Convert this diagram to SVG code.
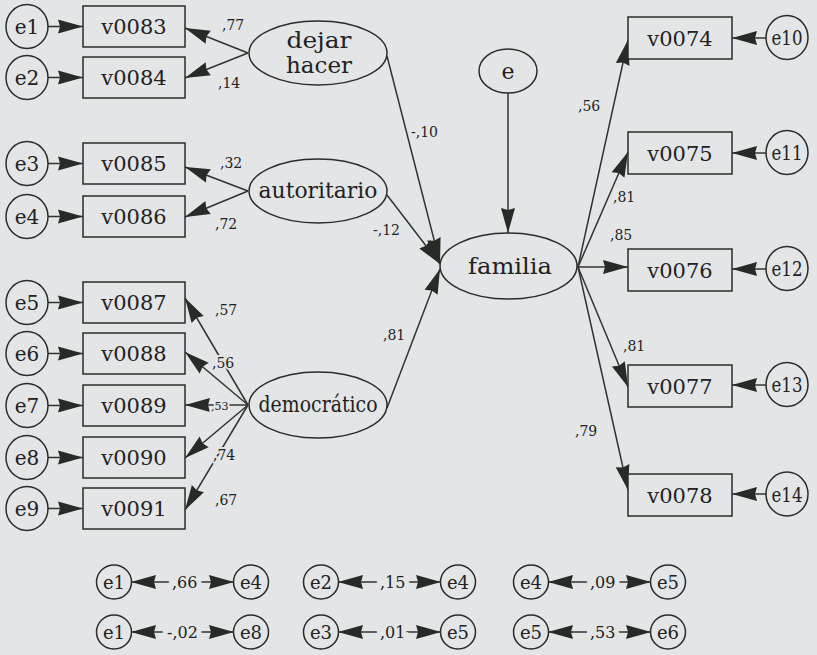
<svg xmlns="http://www.w3.org/2000/svg" width="817" height="655" viewBox="0 0 817 655">
<defs>
<marker id="ah" markerUnits="userSpaceOnUse" viewBox="0 0 26 16" markerWidth="26" markerHeight="16" refX="25" refY="8" orient="auto-start-reverse" overflow="visible">
<path d="M0,1 L25,8 L0,15 L2,8 z" fill="#262b27"/>
</marker>
<style>
.bg{fill:#e3e5e7}
.shape{fill:#e3e5e7;stroke:#2b2b2b;stroke-width:1.5}
.t{font-family:"DejaVu Serif","Liberation Serif",serif;fill:#222;text-anchor:middle}
.box{font-size:21px}
.lat{font-size:22px}
.err{font-size:20px}
.errs{font-size:18px}
.lbl{font-family:"DejaVu Serif","Liberation Serif",serif;fill:#222;font-size:14px;paint-order:stroke;stroke:#e3e5e7;stroke-width:4px;stroke-linejoin:round}
.lbl2{font-family:"DejaVu Serif","Liberation Serif",serif;fill:#222;font-size:16px;paint-order:stroke;stroke:#e3e5e7;stroke-width:10px}
.edge line{stroke:#333;stroke-width:1.5;fill:none;marker-end:url(#ah)}
.edge line.bi{marker-start:url(#ah)}
</style>
</defs>
<rect class="bg" x="0" y="0" width="817" height="655"/>

<g id="connectors" class="edge">
<!-- left errors to boxes -->
<line x1="48" y1="26.5" x2="83" y2="26.5"/>
<line x1="48" y1="77.5" x2="83" y2="77.5"/>
<line x1="48" y1="163.5" x2="83" y2="163.5"/>
<line x1="48" y1="216.5" x2="83" y2="216.5"/>
<line x1="48" y1="302.5" x2="83" y2="302.5"/>
<line x1="48" y1="353.5" x2="83" y2="353.5"/>
<line x1="48" y1="405.5" x2="83" y2="405.5"/>
<line x1="48" y1="457.5" x2="83" y2="457.5"/>
<line x1="48" y1="508.5" x2="83" y2="508.5"/>
<!-- loadings -->
<line x1="248" y1="53" x2="185" y2="28"/>
<line x1="248" y1="53" x2="185" y2="78"/>
<line x1="248" y1="191" x2="185" y2="167"/>
<line x1="248" y1="191" x2="185" y2="217"/>
<line x1="248" y1="405" x2="185" y2="298"/>
<line x1="248" y1="405" x2="185" y2="352"/>
<line x1="248" y1="405" x2="185" y2="405"/>
<line x1="248" y1="405" x2="185" y2="458"/>
<line x1="248" y1="405" x2="185" y2="510"/>
<!-- structural -->
<line x1="387" y1="56" x2="440" y2="263"/>
<line x1="387" y1="195" x2="440" y2="264"/>
<line x1="387" y1="408" x2="440" y2="269"/>
<line x1="508" y1="93" x2="508" y2="233"/>
<!-- familia to indicators -->
<line x1="578" y1="267" x2="628" y2="40"/>
<line x1="578" y1="267" x2="628" y2="152"/>
<line x1="578" y1="267" x2="628" y2="267"/>
<line x1="578" y1="267" x2="628" y2="387"/>
<line x1="578" y1="267" x2="628" y2="490"/>
<!-- right errors -->
<line x1="766" y1="38" x2="732" y2="38"/>
<line x1="766" y1="153" x2="732" y2="153"/>
<line x1="766" y1="269" x2="732" y2="269"/>
<line x1="766" y1="385" x2="732" y2="385"/>
<line x1="766" y1="494" x2="732" y2="494"/>
<!-- covariances -->
<line class="bi" x1="131" y1="582" x2="234" y2="582"/>
<line class="bi" x1="338" y1="582" x2="441" y2="582"/>
<line class="bi" x1="548" y1="582" x2="651" y2="582"/>
<line class="bi" x1="131" y1="632" x2="234" y2="632"/>
<line class="bi" x1="338" y1="632" x2="441" y2="632"/>
<line class="bi" x1="548" y1="632" x2="651" y2="632"/>
</g>

<g id="labels">
<text class="lbl" x="222" y="30">,77</text>
<text class="lbl" x="218" y="88">,14</text>
<text class="lbl" x="220" y="168">,32</text>
<text class="lbl" x="215" y="229">,72</text>
<text class="lbl" x="373" y="235">-,12</text>
<text class="lbl" x="411" y="137">-,10</text>
<text class="lbl" x="215" y="315">,57</text>
<text class="lbl" x="212" y="368">,56</text>
<text class="lbl" x="211" y="410" style="font-size:11px">,53</text>
<text class="lbl" x="213" y="460">,74</text>
<text class="lbl" x="215" y="505">,67</text>
<text class="lbl" x="383" y="340">,81</text>
<text class="lbl" x="578" y="111">,56</text>
<text class="lbl" x="613" y="202">,81</text>
<text class="lbl" x="610" y="240">,85</text>
<text class="lbl" x="623" y="351">,81</text>
<text class="lbl" x="575" y="436">,79</text>
<text class="lbl2" x="172" y="588">,66</text>
<text class="lbl2" x="380" y="588">,15</text>
<text class="lbl2" x="590" y="588">,09</text>
<text class="lbl2" x="167" y="638">-,02</text>
<text class="lbl2" x="380" y="638">,01</text>
<text class="lbl2" x="590" y="638">,53</text>
</g>

<!-- left error nodes -->
<g id="e1"><ellipse class="shape" cx="27" cy="26.5" rx="21" ry="22"/><text class="t err" x="27" y="33.5">e1</text></g>
<g id="e2"><ellipse class="shape" cx="27" cy="77.5" rx="21" ry="22"/><text class="t err" x="27" y="84.5">e2</text></g>
<g id="e3"><ellipse class="shape" cx="27" cy="163.5" rx="21" ry="22"/><text class="t err" x="27" y="170.5">e3</text></g>
<g id="e4"><ellipse class="shape" cx="27" cy="216.5" rx="21" ry="22"/><text class="t err" x="27" y="223.5">e4</text></g>
<g id="e5"><ellipse class="shape" cx="27" cy="302.5" rx="21" ry="22"/><text class="t err" x="27" y="309.5">e5</text></g>
<g id="e6"><ellipse class="shape" cx="27" cy="353.5" rx="21" ry="22"/><text class="t err" x="27" y="360.5">e6</text></g>
<g id="e7"><ellipse class="shape" cx="27" cy="405.5" rx="21" ry="22"/><text class="t err" x="27" y="412.5">e7</text></g>
<g id="e8"><ellipse class="shape" cx="27" cy="457.5" rx="21" ry="22"/><text class="t err" x="27" y="464.5">e8</text></g>
<g id="e9"><ellipse class="shape" cx="27" cy="508.5" rx="21" ry="22"/><text class="t err" x="27" y="515.5">e9</text></g>

<!-- left indicators -->
<g id="v0083"><rect class="shape" x="83" y="6" width="102" height="41"/><text class="t box" x="134" y="34">v0083</text></g>
<g id="v0084"><rect class="shape" x="83" y="57" width="102" height="41"/><text class="t box" x="134" y="85">v0084</text></g>
<g id="v0085"><rect class="shape" x="83" y="143" width="102" height="41"/><text class="t box" x="134" y="171">v0085</text></g>
<g id="v0086"><rect class="shape" x="83" y="196" width="102" height="41"/><text class="t box" x="134" y="224">v0086</text></g>
<g id="v0087"><rect class="shape" x="83" y="282" width="102" height="41"/><text class="t box" x="134" y="310">v0087</text></g>
<g id="v0088"><rect class="shape" x="83" y="333" width="102" height="41"/><text class="t box" x="134" y="361">v0088</text></g>
<g id="v0089"><rect class="shape" x="83" y="385" width="102" height="41"/><text class="t box" x="134" y="413">v0089</text></g>
<g id="v0090"><rect class="shape" x="83" y="437" width="102" height="41"/><text class="t box" x="134" y="465">v0090</text></g>
<g id="v0091"><rect class="shape" x="83" y="488" width="102" height="41"/><text class="t box" x="134" y="516">v0091</text></g>

<!-- latent factors -->
<g id="dejar-hacer"><ellipse class="shape" cx="318" cy="53" rx="69" ry="32"/><text class="t lat" x="319" y="48" textLength="65" lengthAdjust="spacingAndGlyphs">dejar</text><text class="t lat" x="319" y="73" textLength="66" lengthAdjust="spacingAndGlyphs">hacer</text></g>
<g id="autoritario"><ellipse class="shape" cx="318" cy="191" rx="69" ry="32"/><text class="t lat" x="318" y="198" textLength="119" lengthAdjust="spacingAndGlyphs">autoritario</text></g>
<g id="democratico"><ellipse class="shape" cx="318" cy="405" rx="69" ry="33"/><text class="t lat" x="318" y="412" textLength="119" lengthAdjust="spacingAndGlyphs">democrático</text></g>
<g id="e"><ellipse class="shape" cx="508" cy="71" rx="29" ry="22"/><text class="t lat" x="508" y="79">e</text></g>
<g id="familia"><ellipse class="shape" cx="508.5" cy="266" rx="68.5" ry="33"/><text class="t lat" x="510" y="274" textLength="84" lengthAdjust="spacingAndGlyphs">familia</text></g>

<!-- right indicators -->
<g id="v0074"><rect class="shape" x="628" y="17" width="104" height="42"/><text class="t box" x="680" y="45.5">v0074</text></g>
<g id="v0075"><rect class="shape" x="628" y="132" width="104" height="42"/><text class="t box" x="680" y="160.5">v0075</text></g>
<g id="v0076"><rect class="shape" x="628" y="249" width="104" height="42"/><text class="t box" x="680" y="277.5">v0076</text></g>
<g id="v0077"><rect class="shape" x="628" y="365" width="104" height="42"/><text class="t box" x="680" y="393.5">v0077</text></g>
<g id="v0078"><rect class="shape" x="628" y="474" width="104" height="42"/><text class="t box" x="680" y="502.5">v0078</text></g>

<!-- right error nodes -->
<g id="e10"><ellipse class="shape" cx="787" cy="37.5" rx="21" ry="22"/><text class="t err" x="787" y="45" textLength="31" lengthAdjust="spacingAndGlyphs">e10</text></g>
<g id="e11"><ellipse class="shape" cx="787" cy="152.5" rx="21" ry="22"/><text class="t err" x="787" y="160" textLength="31" lengthAdjust="spacingAndGlyphs">e11</text></g>
<g id="e12"><ellipse class="shape" cx="787" cy="268.5" rx="21" ry="22"/><text class="t err" x="787" y="276" textLength="31" lengthAdjust="spacingAndGlyphs">e12</text></g>
<g id="e13"><ellipse class="shape" cx="787" cy="384.5" rx="21" ry="22"/><text class="t err" x="787" y="392" textLength="31" lengthAdjust="spacingAndGlyphs">e13</text></g>
<g id="e14"><ellipse class="shape" cx="787" cy="494" rx="21" ry="22"/><text class="t err" x="787" y="501.5" textLength="31" lengthAdjust="spacingAndGlyphs">e14</text></g>

<!-- covariance error nodes -->
<g id="cov-e1-e4-a"><ellipse class="shape" cx="114" cy="582" rx="17.5" ry="17"/><text class="t errs" x="114" y="588.5">e1</text></g>
<g id="cov-e1-e4-b"><ellipse class="shape" cx="251" cy="582" rx="17.5" ry="17"/><text class="t errs" x="251" y="588.5">e4</text></g>
<g id="cov-e2-e4-a"><ellipse class="shape" cx="321" cy="582" rx="17.5" ry="17"/><text class="t errs" x="321" y="588.5">e2</text></g>
<g id="cov-e2-e4-b"><ellipse class="shape" cx="458" cy="582" rx="17.5" ry="17"/><text class="t errs" x="458" y="588.5">e4</text></g>
<g id="cov-e4-e5-a"><ellipse class="shape" cx="531" cy="582" rx="17.5" ry="17"/><text class="t errs" x="531" y="588.5">e4</text></g>
<g id="cov-e4-e5-b"><ellipse class="shape" cx="668" cy="582" rx="17.5" ry="17"/><text class="t errs" x="668" y="588.5">e5</text></g>
<g id="cov-e1-e8-a"><ellipse class="shape" cx="114" cy="632" rx="17.5" ry="17"/><text class="t errs" x="114" y="638.5">e1</text></g>
<g id="cov-e1-e8-b"><ellipse class="shape" cx="251" cy="632" rx="17.5" ry="17"/><text class="t errs" x="251" y="638.5">e8</text></g>
<g id="cov-e3-e5-a"><ellipse class="shape" cx="321" cy="632" rx="17.5" ry="17"/><text class="t errs" x="321" y="638.5">e3</text></g>
<g id="cov-e3-e5-b"><ellipse class="shape" cx="458" cy="632" rx="17.5" ry="17"/><text class="t errs" x="458" y="638.5">e5</text></g>
<g id="cov-e5-e6-a"><ellipse class="shape" cx="531" cy="632" rx="17.5" ry="17"/><text class="t errs" x="531" y="638.5">e5</text></g>
<g id="cov-e5-e6-b"><ellipse class="shape" cx="668" cy="632" rx="17.5" ry="17"/><text class="t errs" x="668" y="638.5">e6</text></g>
</svg>
